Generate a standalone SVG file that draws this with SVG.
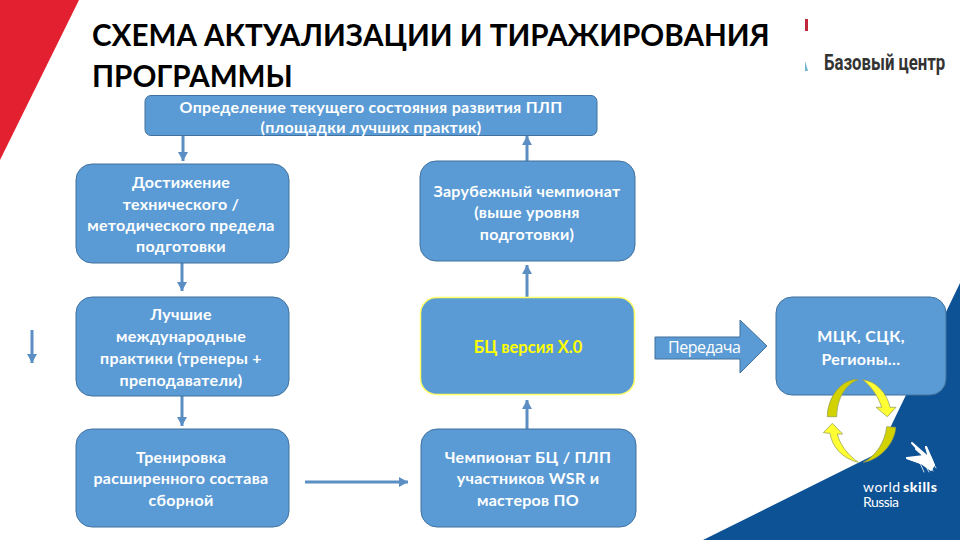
<svg xmlns="http://www.w3.org/2000/svg" width="960" height="540" viewBox="0 0 960 540">
<style>
text{font-family:"Lato","Open Sans","Liberation Sans",sans-serif}
.box{fill:#5b9bd5;stroke:#41719c;stroke-width:1}
.lbl{fill:#fff;font-size:16px;font-weight:700;text-anchor:middle;letter-spacing:.3px}
.title{fill:#000;font-size:29.600px;font-weight:700}
.con{fill:none;stroke:#5b8fc4;stroke-width:3}
.ylw{fill:#ffff33;stroke:#8f9a50;stroke-width:.7}
.dark{fill:#d2d200;stroke:#8f9a50;stroke-width:.7}
.ws{fill:none;stroke:#fff;stroke-linecap:round}
</style>
<defs>
<marker id="ah" markerUnits="userSpaceOnUse" markerWidth="10" markerHeight="10" refX="9" refY="5" orient="auto"><path d="M0 0L9 5L0 10Z" fill="#5b8fc4"/></marker>
</defs>
<rect width="960" height="540" fill="#fff"/>
<g id="background">
<path d="M0 0H79L0 160Z" fill="#e3202f"/>
<path d="M960 283L878 453L703 540H960Z" fill="#0d5295"/>
</g>
<g id="title">
<text class="title" x="92" y="46">СХЕМА АКТУАЛИЗАЦИИ И ТИРАЖИРОВАНИЯ</text>
<text class="title" x="92" y="87">ПРОГРАММЫ</text>
</g>
<g id="logo-basic">
<rect x="805" y="19" width="3" height="12" fill="#c0273d"/>
<path d="M805 71V61L808 71Z" fill="#6cb4d0"/>
<text transform="translate(824 70) scale(.78 1)" font-size="21.500" font-weight="700" fill="#333" style="font-family:Roboto,sans-serif">Базовый центр</text>
</g>
<g id="connectors">
<path class="con" d="M183 135V161" marker-end="url(#ah)"/>
<path class="con" d="M527 161V136" marker-end="url(#ah)"/>
<path class="con" d="M527 297V265" marker-end="url(#ah)"/>
<path class="con" d="M527 429V400" marker-end="url(#ah)"/>
<path class="con" d="M182 263V291" marker-end="url(#ah)"/>
<path class="con" d="M182 396V426" marker-end="url(#ah)"/>
<path class="con" d="M32 330V363" marker-end="url(#ah)"/>
<path class="con" d="M305 482H408" marker-end="url(#ah)"/>
</g>
<g id="n-top"><rect class="box" x="145" y="95.500" width="452" height="40" rx="6"/>
<text class="lbl" x="371" y="113">Определение текущего состояния развития ПЛП</text>
<text class="lbl" x="371" y="133">(площадки лучших практик)</text></g>
<g id="n-limit"><rect class="box" x="76" y="164" width="213" height="99" rx="16"/>
<text class="lbl" x="181" y="188">Достижение</text><text class="lbl" x="181" y="210">технического /</text><text class="lbl" x="181" y="231">методического предела</text><text class="lbl" x="181" y="252">подготовки</text></g>
<g id="n-best"><rect class="box" x="76" y="297" width="213" height="99" rx="16"/>
<text class="lbl" x="181" y="320">Лучшие</text><text class="lbl" x="181" y="342">международные</text><text class="lbl" x="181" y="364">практики (тренеры +</text><text class="lbl" x="181" y="386">преподаватели)</text></g>
<g id="n-train"><rect class="box" x="76" y="429" width="213" height="98" rx="16"/>
<text class="lbl" x="181" y="463">Тренировка</text><text class="lbl" x="181" y="484">расширенного состава</text><text class="lbl" x="181" y="506">сборной</text></g>
<g id="n-foreign"><rect class="box" x="420" y="161" width="215" height="100" rx="16"/>
<text class="lbl" x="527" y="197">Зарубежный чемпионат</text><text class="lbl" x="527" y="218">(выше уровня</text><text class="lbl" x="527" y="240">подготовки)</text></g>
<g id="n-bc"><rect x="420.500" y="297.500" width="214" height="97" rx="16" fill="#5b9bd5" stroke="#ffff66" stroke-width="1.500"/>
<text x="528" y="353" font-size="16.500" font-weight="700" fill="#ffff00" text-anchor="middle">БЦ версия Х.0</text></g>
<g id="n-champ"><rect class="box" x="421" y="429" width="215" height="98" rx="16"/>
<text class="lbl" x="528" y="463">Чемпионат БЦ / ПЛП</text><text class="lbl" x="528" y="484">участников WSR и</text><text class="lbl" x="528" y="506">мастеров ПО</text></g>
<g id="n-regions"><rect class="box" x="776" y="297" width="170" height="98" rx="16"/>
<text class="lbl" x="861" y="342">МЦК, СЦК,</text><text class="lbl" x="861" y="365">Регионы…</text></g>
<g id="n-transfer"><path d="M655 337H740V320L767 346L740 373V359H655Z" fill="#5b9bd5" stroke="#41719c"/>
<text x="668" y="353" font-size="16" fill="#fff" style="font-family:'Open Sans',sans-serif" textLength="73">Передача</text></g>
<g id="cycle">
<path class="dark" d="M827.300 416.700C827.500 398 840 381 855 379.500L858 379.800C846 384 837 398 836.700 416.700Z"/>
<path class="ylw" d="M862.700 379.700C876 381 887 393 890 407.300H896L887.300 416.700L876 407.300H881.700C878 396 871 386 862.700 379.700Z"/>
<path class="dark" d="M895.700 427.300C895 443 880 460 863.300 462.300C876 456 885 442 886.700 426.700Z"/>
<path class="ylw" d="M858.300 462.300C843 459 832 447 830 433.300L823.300 432.700L832.300 423.300L842.700 434H837.300C840 445 848 455 858.300 462.300Z"/>
</g>
<g id="logo-ws">
<path d="M912 443L924 456L907 458L921 463L931 470L934 465L926 447L929 458Z" fill="#fff" stroke="#fff" stroke-width="2" stroke-linejoin="round"/>
<path class="ws" stroke-width="2" d="M916 449L924 456M907 458L921 463M926 447L933 463"/>
<path class="ws" stroke-width=".8" d="M920 463L924 472M924 463L929 472M928 462L933 471M932 461L936 468"/>
<text x="863" y="492" font-size="14" fill="#fff" textLength="37">world</text>
<text x="903" y="492" font-size="14" font-weight="900" fill="#fff" textLength="34">skills</text>
<text x="863" y="507" font-size="14" fill="#fff" textLength="36">Russia</text>
</g>
</svg>
